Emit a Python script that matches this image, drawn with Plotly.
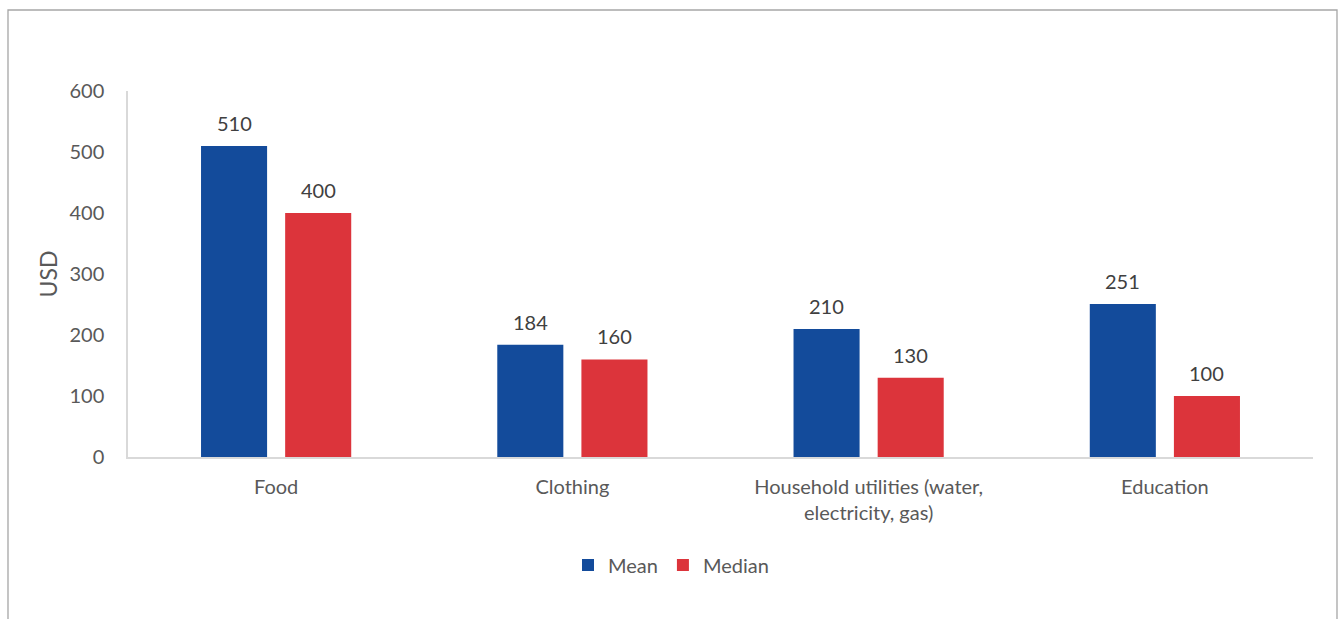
import plotly.graph_objects as go

# Average monthly household spending by category (USD)
categories = ["Food", "Clothing", "Household utilities (water,<br>electricity, gas)", "Education"]
mean_values = [510, 184, 210, 251]
median_values = [400, 160, 130, 100]
y_ticks = [0, 100, 200, 300, 400, 500, 600]

BLUE = "#134B9B"
RED = "#DC343B"
FONT = "Lato, 'Open Sans', sans-serif"
TICK_COLOR = "#595959"
LABEL_COLOR = "#404040"

BAR_W = 0.223
GAP = 0.061

fig = go.Figure()
fig.add_trace(go.Bar(
    name="Mean", x=categories, y=mean_values, marker_color=BLUE,
    width=BAR_W, offset=-(BAR_W + GAP / 2),
    marker_line_width=0,
))
fig.add_trace(go.Bar(
    name="Median", x=categories, y=median_values, marker_color=RED,
    width=BAR_W, offset=GAP / 2,
    marker_line_width=0,
))

# value labels above each bar
shift = (BAR_W + GAP) / 2 * 296
for cat, m, md in zip(categories, mean_values, median_values):
    for val, xs in ((m, -shift), (md, shift)):
        fig.add_annotation(
            x=cat, y=val, text=str(val), showarrow=False,
            xshift=xs, yshift=9, yanchor="bottom",
            font=dict(family=FONT, size=20, color=LABEL_COLOR),
        )

# outer frame of the chart
L, R, T, B = 128, 1313, 91, 457
pw, ph = R - L, B - T
fig.add_shape(
    type="rect", xref="paper", yref="paper",
    x0=(8 - L) / pw, x1=(1337 - L) / pw,
    y0=(B - 640) / ph, y1=(B - 10) / ph,
    line=dict(color="#A6A6A6", width=1.3), fillcolor="rgba(0,0,0,0)",
    layer="below",
)

fig.update_layout(
    width=1340, height=619,
    margin=dict(l=L, r=1340 - R, t=T, b=619 - B),
    paper_bgcolor="white", plot_bgcolor="white",
    font=dict(family=FONT, color=TICK_COLOR, size=20),
    barmode="overlay",
    showlegend=True,
    legend=dict(
        orientation="h", x=(671 - L) / pw, xanchor="center", y=(B - 565) / ph, yanchor="middle",
        font=dict(family=FONT, size=20, color=TICK_COLOR),
        itemwidth=30, traceorder="normal",
    ),
    xaxis=dict(
        showline=True, linecolor="#D9D9D9", linewidth=1.5,
        showgrid=False, ticks="", ticklabelstandoff=11,
        tickfont=dict(family=FONT, size=20, color=TICK_COLOR),
    ),
    yaxis=dict(
        range=[0, 600], tickvals=y_ticks,
        showline=True, linecolor="#D9D9D9", linewidth=1.5,
        showgrid=False, zeroline=False, ticks="", ticklabelstandoff=18,
        tickfont=dict(family=FONT, size=20, color=TICK_COLOR),
        title=dict(text="USD", font=dict(family=FONT, size=23, color=TICK_COLOR), standoff=5),
    ),
)

fig.write_html("out.html")
